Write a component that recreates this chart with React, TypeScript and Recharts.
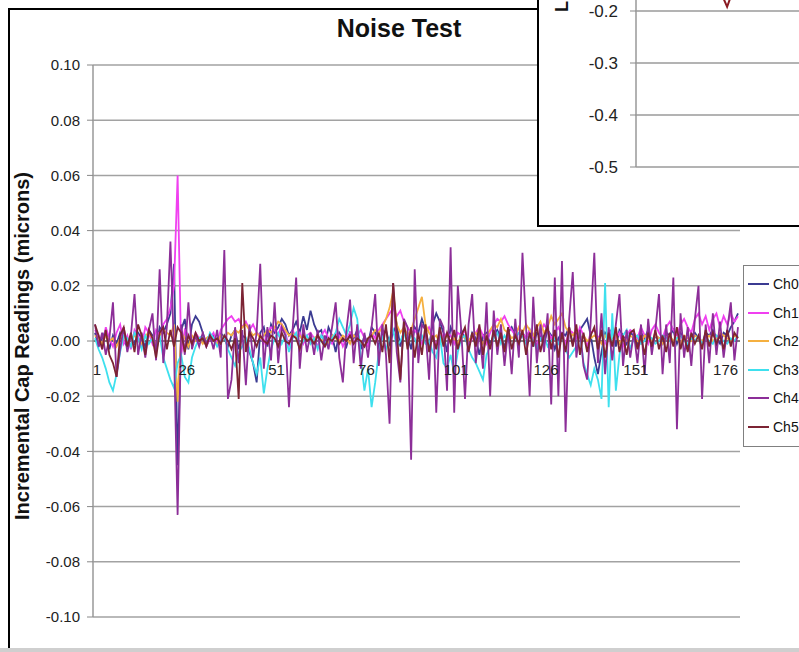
import { CartesianGrid, Line, LineChart, ReferenceLine, XAxis, YAxis } from "recharts";

// sample numbers 1..180 along the category axis
const sampleNo = Array.from({ length: 180 }, (_, i) => String(i + 1));

// readings in nanometres (1/1000 micron); axis labels show microns
const ch0 = [
  3, -2, 1, 4, -3, 2, -1, 3, 0, -2,
  2, -1, 3, 1, -2, 4, 2, -3, 5, 3,
  6, 10, 28, -45, 4, 8, -3, 6, 9, 7,
  3, -2, 1, 2, -1, 3, 1, -2, 2, 4,
  -3, 2, 1, -4, -8, -15, 3, 5, -2, 6,
  3, 5, 8, 6, 2, 4, 7, 3, 9, 4,
  11, 6, 3, 4, -2, 5, 2, -4, 3, 1,
  -2, 3, 1, 4, -3, 2, -1, 5, 3, -2,
  2, 4, -1, 3, 6, -2, 4, 2, -3, 5,
  3, 8, 4, -2, 6, 10, 7, 3, -4, 5,
  2, -3, 4, 1, -2, 3, 1, -5, 2, 3,
  -1, 2, 4, 1, -2, 3, 5, 2, -1, 3,
  1, 4, -2, 3, 2, -1, 4, 2, -3, 1,
  3, 2, 5, -1, 3, 4, 6, 8, 2, -6,
  -12, -4, 3, 1, 5, -2, 4, 2, -1, 3,
  2, -1, 3, 1, 4, -2, 2, 1, -1, 3,
  2, 4, -1, 3, 1, -2, 2, 3, 1, -1,
  3, 2, 4, 1, -1, 3, 2, 5, 7, 10,
];
const ch1 = [
  4, 2, -3, 5, 1, -2, 3, 6, -1, 2,
  -3, 4, 2, -2, 5, 3, -1, 4, 2, 6,
  8, 12, 20, 60, -5, 4, 2, -1, 3, 1,
  2, -2, 1, 3, -1, 4, 6, 8, 9, 7,
  8, 5, 7, 4, 6, 3, 2, -1, 3, 5,
  4, 2, 6, 3, -2, 4, 1, 3, -1, 2,
  3, 1, -2, 2, 4, 1, -1, 3, 2, -2,
  1, 3, -1, 2, 4, 1, -2, 3, 1, 4,
  6, 8, 10, 12, 9, 11, 7, 5, 3, 4,
  2, -1, 3, 5, 2, -2, 4, 1, 3, 2,
  -1, 3, 2, 4, -2, 1, 3, 5, 2, -1,
  3, 6, 8, 7, 9, 6, 4, 2, 5, 3,
  1, 4, 2, -2, 3, 6, 4, 1, 3, 5,
  2, -1, 4, 3, 1, 5, 2, -2, 3, 4,
  1, 3, -1, 2, 4, 1, 3, -2, 2, 4,
  3, 1, 5, 2, -1, 4, 6, 3, 1, 5,
  7, 4, 2, 6, 8, 5, 3, 8, 10, 6,
  9, 4, 8, 10, 5, 9, 6, 10, 7, 9,
];
const ch2 = [
  2, 1, -1, 2, 0, 1, -2, 1, 2, -1,
  1, 2, 0, -1, 2, 3, 1, -1, 2, 4,
  3, 2, 6, -22, 3, 1, -2, 2, 0, 1,
  -1, 1, 2, 0, -1, 2, 1, 3, 2, 4,
  3, 5, 6, 4, 2, 3, 1, 2, 4, 3,
  5, 7, 6, 4, 2, 3, 1, 2, 0, 1,
  -1, 1, 2, 0, 1, -1, 2, 1, 0, 2,
  1, -1, 2, 1, 0, -2, 1, 2, 4, 3,
  5, 8, 12, 18, 6, 3, 5, 2, 4, 8,
  12, 16, 6, 3, 1, 2, -1, 1, 2, 0,
  1, -1, 2, 1, 0, 2, 3, 1, -1, 2,
  4, 6, 5, 8, 4, 3, 1, 2, 5, 3,
  6, 4, 2, 5, 7, 3, 5, 9, 6, 8,
  10, 5, 3, 2, 4, 1, 2, 0, 1, 2,
  1, -1, 2, 0, 1, 2, -1, 1, 0, 2,
  1, 0, -1, 2, 1, 0, 2, 1, -1, 1,
  2, 0, 1, -1, 2, 1, 0, 2, 1, 0,
  1, 2, 0, 1, 3, 2, 1, 0, 2, 1,
];
const ch3 = [
  1, -3, -6, -10, -15, -18, -12, -4, 2, 1,
  -2, 3, 1, -3, 2, -1, 1, -4, 2, -6,
  -10, -14, -17, -8, -5, -13, -15, -6, -2, 1,
  2, -1, 3, 1, -2, 0, 2, -3, -6, -9,
  -4, -2, 1, -3, -8, -12, -6, -19, -10, -3,
  1, 3, -1, 2, -4, 1, 3, -2, 0, 2,
  -1, 1, -3, 2, 0, -2, 1, 3, 8, 5,
  2, 6, 12, 8, -6, -18, -10, -24, -15, -4,
  2, -3, 1, 4, -2, 0, 3, -1, 2, 1,
  -3, 2, -1, 0, -4, -6, 2, -8, -10, -5,
  -12, -4, 1, 2, -3, -6, -8, -11, -14, -5,
  -2, 1, 3, -1, 2, 0, -2, 1, 3, 2,
  -1, 2, 0, -3, 1, 2, -2, 0, 1, -1,
  2, -3, -6, -4, -2, 3, -8, -12, -16, -10,
  -14, -21, 21, -24, 10, -18, -5, 2, 4, -3,
  1, 2, -1, 0, 2, 1, -1, 0, 2, 1,
  0, -1, 1, 2, 0, -1, 1, 0, 2, -1,
  1, 0, -1, 2, 1, 0, -1, 1, 0, 2,
];
const ch4 = [
  6, -2, 3, -5, 1, 14, -13, -3, 5, -4,
  2, 17, -5, 3, -6, 4, 10, -7, 26, -8,
  5, 36, -4, -63, 6, -5, 14, -3, 2, -2,
  3, -1, 2, -3, 4, -6, 33, -21, -14, 5,
  -8, 4, -16, 6, -6, 3, 28, -10, 5, -7,
  14, -8, 5, 2, -24, 4, 23, -10, 6, -4,
  3, -5, 4, -7, 2, -3, 5, 14, -6, -15,
  4, 15, -8, 6, -10, 3, -6, 5, 17, -9,
  6, -5, -30, 21, -4, -15, 8, 5, -43, 26,
  -8, 6, 4, -14, 15, -26, 8, 5, -18, 34,
  -26, 20, 3, -21, 6, 17, -8, 4, -10, 14,
  -20, 11, -5, 6, -9, 4, -12, 8, -6, 32,
  5, -20, 16, -8, 6, -4, 10, -23, 23, -20,
  29, -33, 8, 25, -6, 4, -9, -14, 7, 32,
  -8, 10, -12, 5, -7, 6, 17, -9, 4, -6,
  3, -8, 6, -12, 8, -5, 4, 17, -12, 6,
  -8, 23, -32, 10, -6, 5, -9, 8, 20, -21,
  6, -8, 10, -5, 7, -6, 4, 14, -7, 5,
];
const ch5 = [
  6, 2, -3, 4, -5, -8, -13, 2, 5, -2,
  3, -4, 6, 2, -5, 4, 1, -6, 3, 5,
  -3, 4, -2, 5, 3, -4, 2, -1, 3, 0,
  1, -2, 2, 0, 1, -1, 2, 0, -3, 1,
  -21, 21, -4, 3, 1, -2, 2, 0, -1, 2,
  1, -2, 3, 0, -1, 2, 1, -3, 2, 0,
  1, -1, 2, 0, -2, 1, 0, 2, -1, 1,
  0, 2, -1, 1, 0, -2, 1, 2, -1, 3,
  -4, 6, -8, 21, 4, -14, 7, -3, 5, -6,
  3, -5, 6, -4, 2, -3, 5, -2, 3, -1,
  4, -3, 2, 5, -4, 3, -2, 6, -5, 2,
  -3, 4, -2, 3, -4, 5, -3, 2, -1, 4,
  -5, 3, -2, 6, -4, 2, 5, -3, 4, -6,
  3, -4, 5, -2, 6, -5, 3, -4, 2, 5,
  -3, 4, -6, 3, -2, 5, -4, 2, -5, 3,
  4, -3, 2, -5, 3, -2, 4, -3, 2, -4,
  3, -2, 5, -3, 2, -4, 3, -1, 2, -3,
  4, -2, 3, -1, 2, -3, 4, -2, 3, 1,
];

const channels = [
  { key: "Ch0", values: ch0, color: "#3b3b92" },
  { key: "Ch1", values: ch1, color: "#f040f0" },
  { key: "Ch2", values: ch2, color: "#f5b040" },
  { key: "Ch3", values: ch3, color: "#3ee0ee" },
  { key: "Ch4", values: ch4, color: "#8c2e98" },
  { key: "Ch5", values: ch5, color: "#7c2434" },
];

const yTicks = [-100, -80, -60, -40, -20, 0, 20, 40, 60, 80, 100];

// the chart behind, only its lower left corner shows
const insetIndex = ["1", "2", "3", "4", "5", "6", "7", "8", "9", "10"];
const insetValues = [-0.06, -0.08, -0.05, -0.09, -0.192, -0.07, -0.1, -0.06, -0.08, -0.05];
const insetTicks = [-0.5, -0.4, -0.3, -0.2];

const FONT = "'Liberation Sans', Arial, sans-serif";

const rows = sampleNo.map((s, i) => {
  const row: Record<string, string | number> = { sample: s };
  channels.forEach((c) => (row[c.key] = c.values[i]));
  return row;
});

const insetRows = insetIndex.map((s, i) => ({ n: s, v: insetValues[i] }));

// Excel puts the category labels under the zero line, not under the plot
function ZeroLineTick(props: any) {
  const { x, y, payload } = props;
  return (
    <text x={x + 2} y={y - 255} dy="0.35em" textAnchor="middle" fontSize={15} fill="#222" fontFamily={FONT}>
      {payload.value}
    </text>
  );
}

export default function App() {
  return (
    <div
      style={{
        position: "absolute",
        left: 0,
        top: 0,
        width: 799,
        height: 652,
        overflow: "hidden",
        background: "#fff",
        fontFamily: FONT,
      }}
    >
      <div
        style={{
          position: "absolute",
          left: 8,
          top: 8,
          width: 830,
          height: 660,
          border: "2px solid #000",
          background: "#fff",
        }}
      >
        <LineChart
          width={830}
          height={640}
          data={rows}
          margin={{ top: 55, right: 100, bottom: 13, left: 23 }}
        >
          <CartesianGrid vertical={false} stroke="#a2a2a2" strokeWidth={1.5} />
          <XAxis
            dataKey="sample"
            interval={24}
            height={20}
            axisLine={false}
            tickLine={false}
            padding={{ left: 2, right: 2 }}
            tick={<ZeroLineTick />}
          />
          <YAxis
            domain={[-100, 100]}
            ticks={yTicks}
            width={60}
            tickSize={6}
            tickMargin={7}
            tickFormatter={(v: number) => (v / 1000).toFixed(2)}
            tick={{ fontSize: 15, fill: "#222", fontFamily: FONT }}
            tickLine={{ stroke: "#888" }}
            axisLine={{ stroke: "#999", strokeWidth: 1.5 }}
          />
          <YAxis
            yAxisId="frame"
            orientation="right"
            width={0}
            domain={[-100, 100]}
            tick={false}
            tickLine={false}
            axisLine={{ stroke: "#c8c8c8", strokeWidth: 1.5 }}
          />
          <ReferenceLine y={0} stroke="#6a6a6a" strokeWidth={1.5} />
          {channels.map((c) => (
            <Line
              key={c.key}
              type="linear"
              dataKey={c.key}
              stroke={c.color}
              strokeWidth={1.8}
              dot={false}
              isAnimationActive={false}
            />
          ))}
        </LineChart>
      </div>

      <div
        style={{
          position: "absolute",
          left: 399,
          top: 16,
          transform: "translateX(-50%)",
          fontSize: 25,
          lineHeight: 1,
          fontWeight: 700,
          color: "#111",
          whiteSpace: "nowrap",
        }}
      >
        Noise Test
      </div>

      <div
        style={{
          position: "absolute",
          left: 22,
          top: 346,
          transform: "translate(-50%, -50%) rotate(-90deg)",
          fontSize: 20,
          fontWeight: 700,
          color: "#111",
          whiteSpace: "nowrap",
        }}
      >
        Incremental Cap Readings (microns)
      </div>

      <div
        style={{
          position: "absolute",
          left: 743,
          top: 265,
          width: 120,
          height: 180,
          border: "1px solid #808080",
          background: "#fff",
        }}
      >
        {channels.map((c, i) => (
          <div
            key={c.key}
            style={{
              position: "absolute",
              left: 4,
              top: 18 + i * 28.6 - 9,
              height: 18,
              display: "flex",
              alignItems: "center",
              fontSize: 14,
              color: "#111",
            }}
          >
            <span style={{ display: "inline-block", width: 21, height: 2, background: c.color, marginRight: 4 }} />
            {c.key}
          </div>
        ))}
      </div>

      <div
        style={{
          position: "absolute",
          left: 537,
          top: -200,
          width: 400,
          height: 427,
          border: "2px solid #000",
          background: "#fff",
          boxSizing: "border-box",
        }}
      >
        <LineChart
          width={396}
          height={423}
          data={insetRows}
          margin={{ top: 53, right: 94, bottom: 58, left: 17 }}
        >
          <CartesianGrid vertical={false} stroke="#9a9a9a" strokeWidth={1.5} />
          <XAxis dataKey="n" hide />
          <YAxis
            domain={[-0.5, 0.1]}
            ticks={insetTicks}
            width={80}
            tickSize={6}
            tickMargin={12}
            tickFormatter={(v: number) => v.toFixed(1)}
            tick={{ fontSize: 17, fill: "#222", fontFamily: FONT }}
            tickLine={{ stroke: "#888" }}
            axisLine={{ stroke: "#999", strokeWidth: 1.5 }}
          />
          <Line
            type="linear"
            dataKey="v"
            stroke="#8a1a22"
            strokeWidth={2}
            dot={false}
            isAnimationActive={false}
          />
        </LineChart>
        <div
          style={{
            position: "absolute",
            left: 13,
            bottom: 213,
            writingMode: "vertical-rl",
            transform: "rotate(180deg)",
            fontSize: 18,
            fontWeight: 700,
            color: "#111",
            whiteSpace: "nowrap",
          }}
        >
          Linearity Error (microns)
        </div>
      </div>

      <div style={{ position: "absolute", left: 0, top: 648, width: 799, height: 4, background: "#cfcfcf" }} />
    </div>
  );
}
